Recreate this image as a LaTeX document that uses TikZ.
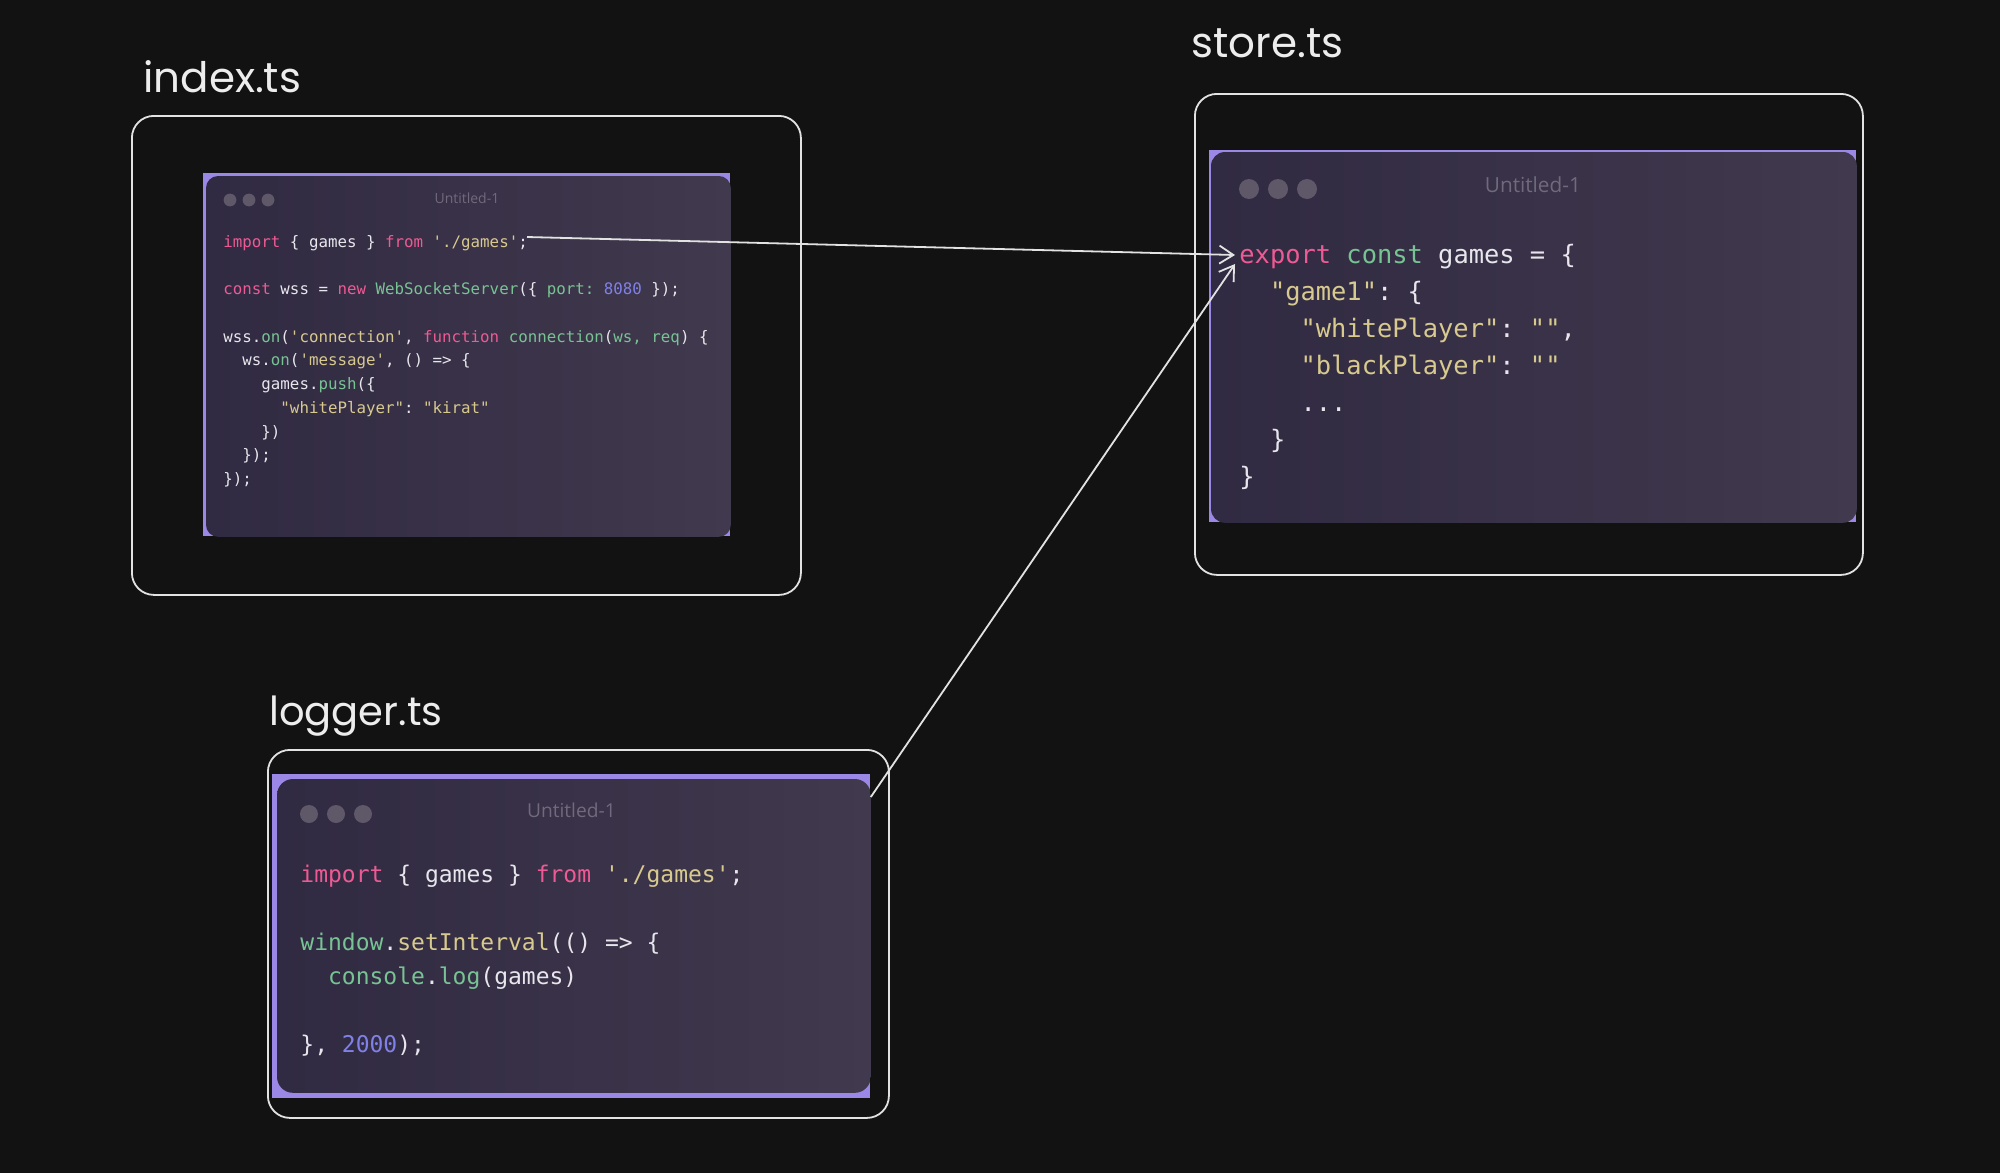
\documentclass[tikz,border=0pt]{standalone}
\usepackage{fontspec}
\setmainfont{Poppins}
\setsansfont{Open Sans}
\setmonofont{DejaVu Sans Mono}
\usepackage{xcolor}
\definecolor{bgblack}{HTML}{121212}
\definecolor{boxline}{HTML}{E2E2E2}
\definecolor{labelwhite}{HTML}{EDEDED}
\definecolor{winpurple}{HTML}{9B87E6}
\definecolor{winA}{HTML}{302A42}
\definecolor{winB}{HTML}{41394D}
\definecolor{dotgray}{HTML}{5E5869}
\definecolor{titlegray}{HTML}{706A7C}
\definecolor{codewhite}{HTML}{E8E6EC}
\definecolor{kwpink}{HTML}{EE5A93}
\definecolor{strgold}{HTML}{D8CA8E}
\definecolor{fngreen}{HTML}{78C394}
\definecolor{numblue}{HTML}{8081E8}
\usetikzlibrary{arrows.meta, positioning, calc}

\newcommand{\cpink}[1]{\textcolor{kwpink}{#1}}
\newcommand{\cgold}[1]{\textcolor{strgold}{#1}}
\newcommand{\cgreen}[1]{\textcolor{fngreen}{#1}}
\newcommand{\cblue}[1]{\textcolor{numblue}{#1}}

\begin{document}
\begin{tikzpicture}[
        x=0.5pt, y=-0.5pt,
        filebox/.style={draw=boxline, line width=0.9pt, rounded corners=11pt, inner sep=0pt, anchor=north west},
        winback/.style={fill=winpurple, inner sep=0pt, anchor=north west},
        winface/.style={left color=winA, right color=winB, rounded corners=#1},
        winface/.default=6pt,
        wintitle/.style={text=titlegray, inner sep=0pt},
        code/.style={text=codewhite, align=left, inner sep=0pt, anchor=north west},
        handlabel/.style={text=labelwhite, font=\fontsize{21}{24}\selectfont, inner sep=0pt, anchor=base west},
        link/.style={-{Straight Barb[length=7pt, width=9pt]}, draw=boxline, line width=0.9pt}
    ]
        \fill[bgblack] (0,0) rectangle (2000,1173);
        \useasboundingbox (0,0) rectangle (2000,1173);

        % File boxes and their names
        \node[handlabel] (idxlabel) at (143,92) {index.ts};
        \node[handlabel] (storelabel) at (1191,57) {store.ts};
        \node[handlabel, font=\fontsize{20}{24}\selectfont] (loglabel) at (269,725) {logger.ts};

        \node[filebox, minimum width=334.5pt, minimum height=239.5pt] (idxbox) at (131,115) {};
        \node[filebox, minimum width=334pt, minimum height=240.5pt] (storebox) at (1194,93) {};
        \node[filebox, minimum width=310.5pt, minimum height=184pt] (logbox) at (267,749) {};

        % index.ts window
        \node[winback, minimum width=263.5pt, minimum height=181.5pt] (idxwin) at (203,173) {};
        \shade[winface=6pt] ($(idxwin.north west)+(3,3)$) rectangle (idxwin.south east);
        \foreach \i in {0,1,2}
            \fill[dotgray] ($(idxwin.north west)+(27+19*\i,27)$) circle (3.2pt);
        \node[wintitle, font=\sffamily\fontsize{7}{8}\selectfont] (idxtitle) at ($(idxwin.north)+(0,25)$) {Untitled-1};
        \node[code, font=\ttfamily\fontsize{7.9}{11.85}\selectfont] (idxcode) at (223,235) {%
            \cpink{import} \{ games \} \cpink{from} \cgold{'./games'};\\
            ~\\
            \cpink{const} wss = \cpink{new} \cgreen{WebSocketServer}(\{ \cgreen{port:} \cblue{8080} \});\\
            ~\\
            wss.\cgreen{on}(\cgold{'connection'}, \cpink{function} \cgreen{connection}(\cgreen{ws, req}) \{\\
            \hphantom{xx}ws.\cgreen{on}(\cgold{'message'}, () => \{\\
            \hphantom{xxxx}games.\cgreen{push}(\{\\
            \hphantom{xxxxxx}\cgold{"whitePlayer"}: \cgold{"kirat"}\\
            \hphantom{xxxx}\})\\
            \hphantom{xx}\});\\
            \});};

        % store.ts window
        \node[winback, minimum width=323.5pt, minimum height=186pt] (storewin) at (1209,150) {};
        \shade[winface=7pt] ($(storewin.north west)+(2,2)$) rectangle (storewin.south east);
        \foreach \i in {0,1,2}
            \fill[dotgray] ($(storewin.north west)+(40+29*\i,39)$) circle (5pt);
        \node[wintitle, font=\sffamily\fontsize{10.4}{12}\selectfont] (storetitle) at ($(storewin.north)+(0,35)$) {Untitled-1};
        \node[code, font=\ttfamily\fontsize{12.7}{18.5}\selectfont] (storecode) at (1239,244) {%
            \cpink{export} \cgreen{const} games = \{\\
            \hphantom{xx}\cgold{"game1"}: \{\\
            \hphantom{xxxx}\cgold{"whitePlayer"}: \cgold{""},\\
            \hphantom{xxxx}\cgold{"blackPlayer"}: \cgold{""}\\
            \hphantom{xxxx}...\\
            \hphantom{xx}\}\\
            \}};

        % logger.ts window
        \node[winback, minimum width=299pt, minimum height=162pt] (logwin) at (272,774) {};
        \shade[winface=8pt] ($(logwin.north west)+(5,5)$) rectangle ($(logwin.south east)+(0,-6)$);
        \foreach \i in {0,1,2}
            \fill[dotgray] ($(logwin.north west)+(37+27*\i,40)$) circle (4.5pt);
        \node[wintitle, font=\sffamily\fontsize{9.6}{11}\selectfont] (logtitle) at ($(logwin.north)+(0,36)$) {Untitled-1};
        \node[code, font=\ttfamily\fontsize{11.5}{17}\selectfont] (logcode) at (300,865) {%
            \cpink{import} \{ games \} \cpink{from} \cgold{'./games'};\\
            ~\\
            \cgreen{window}.\cgold{setInterval}(() => \{\\
            \hphantom{xx}\cgreen{console}.\cgreen{log}(games)\\
            ~\\
            \}, \cblue{2000});};

        % Imports pointing at the shared store
        \coordinate (impend) at (527,237);
        \coordinate (exporta) at (1235,255);
        \coordinate (exportb) at (1235,264);
        \draw[link] (impend) -- (exporta);
        \draw[link] ([yshift=-11.5pt]logwin.north east) -- (exportb);
    \end{tikzpicture}
\end{document}
